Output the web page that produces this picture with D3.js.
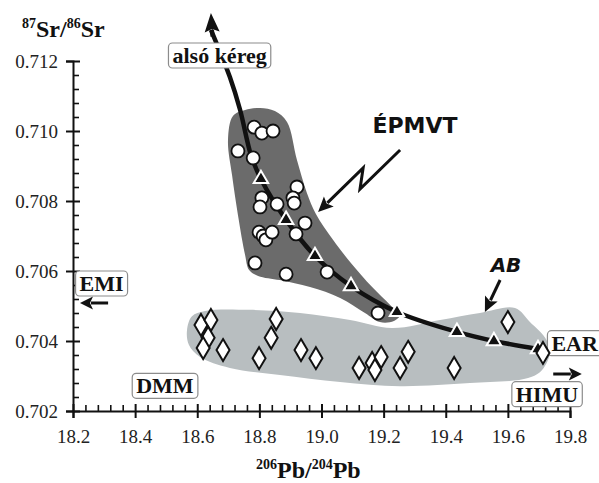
<!DOCTYPE html>
<html>
<head>
<meta charset="utf-8">
<script src="https://cdn.jsdelivr.net/npm/d3@7"></script>
<style>
  body { margin: 0; background: #fff; }
  svg { display: block; }
</style>
</head>
<body>
<div id="chart"></div>
<script>
const width = 599, height = 483;
const serif = "'Liberation Serif', 'Times New Roman', serif";
const sans = "'DejaVu Sans', sans-serif";

// axis ticks
const xTicks = [18.2, 18.4, 18.6, 18.8, 19.0, 19.2, 19.4, 19.6, 19.8];
const yTicks = [0.702, 0.704, 0.706, 0.708, 0.710, 0.712];

// ÉPMVT samples (circles)
const epmvtPb = [18.783, 18.808, 18.844, 18.731, 18.780, 18.921, 18.808, 18.802, 18.857, 18.908, 18.912,
                 18.947, 18.918, 18.799, 18.812, 18.821, 18.841, 18.786, 18.886, 19.018, 19.182];
const epmvtSr = [0.71011, 0.70994, 0.71000, 0.70943, 0.70923, 0.70840, 0.70809, 0.70783, 0.70791, 0.70809, 0.70794,
                 0.70737, 0.70706, 0.70711, 0.70700, 0.70689, 0.70711, 0.70623, 0.70591, 0.70597, 0.70480];

// mixing model steps (triangles)
const mixPb = [18.805, 18.886, 18.979, 19.095, 19.243, 19.436, 19.555, 19.697];
const mixSr = [0.70863, 0.70746, 0.70643, 0.70557, 0.70483, 0.70426, 0.70400, 0.70377];

// AB samples (diamonds)
const abPb = [18.612, 18.644, 18.635, 18.619, 18.683, 18.799, 18.838, 18.854, 18.934, 18.982,
              19.121, 19.163, 19.172, 19.192, 19.253, 19.279, 19.427, 19.600, 19.713];
const abSr = [0.70446, 0.70460, 0.70409, 0.70380, 0.70374, 0.70351, 0.70409, 0.70463, 0.70374, 0.70351,
              0.70323, 0.70337, 0.70317, 0.70354, 0.70323, 0.70369, 0.70323, 0.70454, 0.70366];

// mixing curve towards the lower crust
const curvePb = [18.644, 18.705, 18.738, 18.773, 18.805, 18.886, 18.979, 19.095, 19.243, 19.436, 19.555, 19.697];
const curveSr = [0.71289, 0.71154, 0.71060, 0.70931, 0.70863, 0.70746, 0.70643, 0.70557, 0.70483, 0.70426, 0.70400, 0.70377];

// field outlines
const epmvtFieldPb = [18.715, 18.754, 18.802, 18.850, 18.889, 18.921, 18.953, 18.982, 19.037, 19.092, 19.163, 19.221,
                      19.253, 19.233, 19.188, 19.140, 19.060, 18.963, 18.866, 18.796, 18.767, 18.754, 18.731, 18.712, 18.699];
const epmvtFieldSr = [0.71043, 0.71060, 0.71066, 0.71057, 0.71026, 0.70917, 0.70823, 0.70763, 0.70689, 0.70626, 0.70554, 0.70503,
                      0.70474, 0.70457, 0.70454, 0.70480, 0.70523, 0.70554, 0.70574, 0.70586, 0.70603, 0.70646, 0.70760, 0.70874, 0.70974];
const abFieldPb = [18.567, 18.583, 18.625, 18.770, 18.931, 19.092, 19.227, 19.382, 19.510, 19.623, 19.671,
                   19.720, 19.736, 19.710, 19.665, 19.478, 19.253, 19.060, 18.866, 18.705, 18.609, 18.573];
const abFieldSr = [0.70431, 0.70471, 0.70486, 0.70489, 0.70480, 0.70460, 0.70437, 0.70460, 0.70480, 0.70494, 0.70454,
                   0.70409, 0.70369, 0.70317, 0.70294, 0.70280, 0.70271, 0.70283, 0.70303, 0.70323, 0.70354, 0.70389];

// boxed end-member labels
const endLabels = ["alsó kéreg", "EMI", "DMM", "EAR", "HIMU"];
const endLabelPb = [18.672, 18.292, 18.496, 19.815, 19.726];
const endLabelSr = [0.711943, 0.705429, 0.702506, 0.703723, 0.702266];

const xScale = d3.scaleLinear().domain([18.2, 19.8]).range([73, 570]);
const yScale = d3.scaleLinear().domain([0.702, 0.712]).range([411, 61]);

const svg = d3.select("#chart").append("svg").attr("width", width).attr("height", height);

// fields
const closed = d3.line().x(d => xScale(d[0])).y(d => yScale(d[1])).curve(d3.curveCatmullRomClosed.alpha(0.5));
svg.append("path")
    .attr("d", closed(d3.zip(abFieldPb, abFieldSr)))
    .attr("fill", "#b8bec0");
svg.append("path")
    .attr("d", closed(d3.zip(epmvtFieldPb, epmvtFieldSr)))
    .attr("fill", "#6b6b6b");

// axes
const yAxis = d3.axisLeft(yScale).tickValues(yTicks).tickSize(7).tickPadding(8).tickFormat(d3.format(".3f"));
const xAxis = d3.axisBottom(xScale).tickValues(xTicks).tickSize(7).tickPadding(12).tickFormat(d3.format(".1f"));

const yMinor = d3.range(0, 25).map(i => 0.702 + i * 0.0004).filter((d, i) => i % 5 !== 0);
const xMinor = d3.range(0, 40).map(i => 18.2 + i * 0.04).filter((d, i) => i % 5 !== 0);

const yG = svg.append("g").attr("transform", "translate(73,0)").call(yAxis);
const xG = svg.append("g").attr("transform", "translate(0,411)").call(xAxis);
[yG, xG].forEach(g => {
    g.select(".domain").attr("stroke", "#111").attr("stroke-width", 2);
    g.selectAll(".tick line").attr("stroke", "#111").attr("stroke-width", 2);
    g.selectAll(".tick text").attr("font-family", serif).attr("font-size", 19).attr("fill", "#222");
});
yG.selectAll(".tick line").attr("x1", 7);
xG.selectAll(".tick line").attr("y1", -7);

svg.append("g").attr("transform", "translate(73,0)")
    .call(d3.axisRight(yScale).tickValues(yMinor).tickSize(6).tickFormat(""))
    .call(g => g.select(".domain").remove())
    .call(g => g.selectAll(".tick line").attr("stroke", "#111").attr("stroke-width", 1.6));
svg.append("g").attr("transform", "translate(0,411)")
    .call(d3.axisTop(xScale).tickValues(xMinor).tickSize(6).tickFormat(""))
    .call(g => g.select(".domain").remove())
    .call(g => g.selectAll(".tick line").attr("stroke", "#111").attr("stroke-width", 1.6));

// axis titles
function isoTitle(x, y, parts) {
    const t = svg.append("text").attr("x", x).attr("y", y)
        .attr("font-family", serif).attr("font-weight", "bold").attr("fill", "#111");
    parts.forEach(p => {
        t.append("tspan").attr("font-size", p.sup ? 14 : 24).attr("dy", p.sup ? -9 : 9).text(p.s);
    });
    return t;
}
isoTitle(22, 37, [{ s: "87", sup: true }, { s: "Sr/" }, { s: "86", sup: true }, { s: "Sr" }]);
isoTitle(256, 478, [{ s: "206", sup: true }, { s: "Pb/" }, { s: "204", sup: true }, { s: "Pb" }]);

// arrow helper
function arrow(points, headLen, headWid, sw) {
    const pts = points.map(p => [xScale(p[0]), yScale(p[1])]);
    const tip = pts[pts.length - 1], prev = pts[pts.length - 2];
    const dx = tip[0] - prev[0], dy = tip[1] - prev[1], d = Math.hypot(dx, dy);
    const ux = dx / d, uy = dy / d;
    const bx = tip[0] - ux * headLen, by = tip[1] - uy * headLen;
    const linePts = pts.slice(0, -1).concat([[bx + ux * 2, by + uy * 2]]);
    svg.append("path")
        .attr("d", d3.line()(linePts))
        .attr("fill", "none").attr("stroke", "#111").attr("stroke-width", sw).attr("stroke-linejoin", "miter");
    svg.append("path")
        .attr("d", d3.line()([tip, [bx - uy * headWid / 2, by + ux * headWid / 2], [bx + ux * 3, by + uy * 3],
                               [bx + uy * headWid / 2, by - ux * headWid / 2]]) + "Z")
        .attr("fill", "#111");
}

// mixing curve with arrow to the lower crust
svg.append("path")
    .attr("d", d3.line().x(d => xScale(d[0])).y(d => yScale(d[1])).curve(d3.curveCatmullRom)(d3.zip(curvePb, curveSr)))
    .attr("fill", "none").attr("stroke", "#111").attr("stroke-width", 4.5);
arrow([[18.649, 0.71270], [18.644, 0.71337]], 19, 15, 4);

// end-member arrows
arrow([[18.313, 0.705086], [18.2225, 0.705086]], 13, 13, 3);
arrow([[19.746, 0.703057], [19.838, 0.703057]], 13, 13, 3);

// ÉPMVT & AB labels with arrows
arrow([[19.253, 0.709457], [19.124, 0.708343], [19.134, 0.708943], [18.989, 0.707686]], 15, 14, 3);
arrow([[19.575, 0.705743], [19.526, 0.704829]], 15, 14, 3);

svg.append("text").attr("x", xScale(19.301)).attr("y", yScale(0.709943))
    .attr("text-anchor", "middle").attr("font-family", sans).attr("font-weight", "bold")
    .attr("font-size", 22).attr("fill", "#111").text("ÉPMVT");
svg.append("text").attr("x", xScale(19.594)).attr("y", yScale(0.705971))
    .attr("text-anchor", "middle").attr("font-family", sans).attr("font-weight", "bold")
    .attr("font-style", "italic").attr("font-size", 20).attr("fill", "#111").text("AB");

// boxed labels
endLabels.forEach((lab, i) => {
    const g = svg.append("g");
    const t = g.append("text")
        .attr("x", xScale(endLabelPb[i])).attr("y", yScale(endLabelSr[i]))
        .attr("text-anchor", "middle").attr("font-family", serif).attr("font-weight", "bold")
        .attr("font-size", 22).attr("fill", "#111").text(lab);
    const b = t.node().getBBox();
    g.insert("rect", "text")
        .attr("x", b.x - 4).attr("y", b.y).attr("width", b.width + 8).attr("height", b.height)
        .attr("rx", 4).attr("fill", "#fff").attr("stroke", "#8c8c8c").attr("stroke-width", 1.2);
});

// ÉPMVT circles
svg.append("g").selectAll("circle")
    .data(d3.zip(epmvtPb, epmvtSr))
    .join("circle")
    .attr("cx", d => xScale(d[0]))
    .attr("cy", d => yScale(d[1]))
    .attr("r", 6.5)
    .attr("fill", "#fff").attr("stroke", "#111").attr("stroke-width", 1.8);

// mixing triangles
const tri = d3.symbol().type(d3.symbolTriangle).size(90);
svg.append("g").selectAll("path")
    .data(d3.zip(mixPb, mixSr))
    .join("path")
    .attr("d", tri)
    .attr("transform", d => `translate(${xScale(d[0])},${yScale(d[1])})`)
    .attr("fill", "#111").attr("stroke", "#fff").attr("stroke-width", 2);

// AB diamonds
svg.append("g").selectAll("path")
    .data(d3.zip(abPb, abSr))
    .join("path")
    .attr("d", "M0,-11L6.5,0L0,11L-6.5,0Z")
    .attr("transform", d => `translate(${xScale(d[0])},${yScale(d[1])})`)
    .attr("fill", "#fff").attr("stroke", "#111").attr("stroke-width", 2);
</script>
</body>
</html>
